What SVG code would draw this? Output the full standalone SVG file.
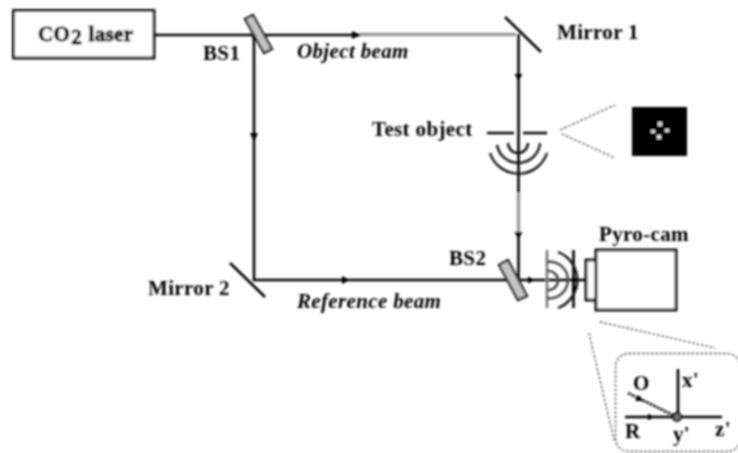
<svg xmlns="http://www.w3.org/2000/svg" width="738" height="453" viewBox="0 0 738 453">
<defs>
<filter id="soft" x="0" y="0" width="738" height="453" filterUnits="userSpaceOnUse"><feGaussianBlur stdDeviation="0.8"/></filter>
<style>
text{font-family:"Liberation Serif",serif;font-weight:bold;font-size:21px;letter-spacing:.35px;fill:#000}
.i{font-style:italic;font-size:21px}
.s{stroke:#000;stroke-width:.9px}
.l{fill:none;stroke:#000;stroke-width:2.600}
.g{fill:none;stroke:#999;stroke-width:3.400}
.a{fill:none;stroke:#111;stroke-width:2.400}
.am{fill:none;stroke:#444;stroke-width:2.400}
.ag{fill:none;stroke:#777;stroke-width:2.600}
.das{fill:none;stroke:#111;stroke-width:2.400;stroke-dasharray:3 1}
.d{fill:none;stroke:#444;stroke-width:1.300;stroke-dasharray:2.500 2}
.bs{fill:#c4c4c4;stroke:#111;stroke-width:2.200}
.box{fill:#fff;stroke:#000;stroke-width:2.800}
.h{fill:#000}
</style>
</defs>
<rect width="738" height="453" fill="#fff"/>
<g filter="url(#soft)">
<g id="connectors">
<path class="l" d="M154 35H360"/>
<path class="g" d="M360 34.500H516"/>
<path class="l" d="M254 36V280H585"/>
<path class="l" d="M518.500 34V193"/>
<path class="g" d="M518.500 193V235"/>
<path class="l" d="M518.500 235V280"/>
<path class="h" d="M352 31L361 35L352 39Z M250 133L254 142L258 133Z M514.500 74L518.500 81L522.500 74Z M514.500 232L518.500 239L522.500 232Z M342 276L350 280L342 284Z M528 276.500L535 280L528 283.500Z M572 276L578 280L572 284Z M572 284L578 288L572 292Z"/>
<path class="d" d="M560 130L615 105M562 134L615 158"/>
<path class="d" d="M600 322L715 348M589 333L614 440"/>
</g>
<g id="laser"><rect class="box" x="13.500" y="10.500" width="140.500" height="47.500"/>
<text class="s" x="38" y="41">CO<tspan dy="3" dx="1">2</tspan><tspan dy="-3" dx="6.500">laser</tspan></text></g>
<g id="bs1"><path class="bs" d="M245 19L253 15L272 49L264 53Z"/><path class="l" d="M254 35V40"/><text x="203" y="60">BS1</text></g>
<g id="mirror1"><path class="l" d="M505 17L541 52"/><text x="557" y="39">Mirror 1</text></g>
<g id="mirror2"><path class="l" d="M230 263L265 297"/><text x="148" y="295">Mirror 2</text></g>
<g id="test-object"><path class="l" d="M487 133H514M523 133H547"/>
<path class="a" d="M508 143A10 10 0 0 0 528 143M497 145A21.700 21.700 0 0 0 540 143M490 153A30 30 0 0 0 547 153"/>
<text x="372" y="136">Test object</text></g>
<g id="test-image"><rect x="632" y="107" width="55" height="49" fill="#000"/>
<path fill="#ddd" d="M658 122h4v4h-4zM651 130h4v3h-4zM665 129h4v3h-4zM657 135h4v4h-4z"/></g>
<g id="bs2"><path class="bs" d="M499 265L508 260L527 296L518 300Z"/><text x="449" y="265">BS2</text></g>
<g id="fringes"><path class="ag" d="M547 250V308"/><path class="l" d="M573.500 250V308"/>
<path class="am" d="M547 271A9.600 9.600 0 1 1 547 290M547 262A18.200 18.200 0 1 1 547 298"/>
<path class="a" d="M558 252A30 30 0 0 1 558 308"/></g>
<g id="pyro-cam"><rect class="box" x="586" y="260" width="11" height="40"/><rect class="box" x="596" y="250" width="80" height="60"/>
<text x="599" y="241">Pyro-cam</text></g>
<g id="inset"><rect class="d" x="615.500" y="353.500" width="125" height="98" rx="13"/>
<path class="l" d="M678 369V417M625 417H722"/>
<path class="das" d="M628 393L677 417"/>
<path class="h" d="M639 395L643 401L635 401Z M648 413.500L654 417L648 420.500Z"/>
<circle cx="677" cy="417" r="4" fill="#777" stroke="#000" stroke-width="2"/>
<text x="633" y="390">O</text><text x="682" y="387">x'</text><text x="625" y="438">R</text><text x="673" y="441">y'</text><text x="715" y="436">z'</text></g>
<g id="beam-labels"><text class="i" x="297" y="58">Object beam</text><text class="i" x="297" y="308">Reference beam</text></g>
</g>
</svg>
